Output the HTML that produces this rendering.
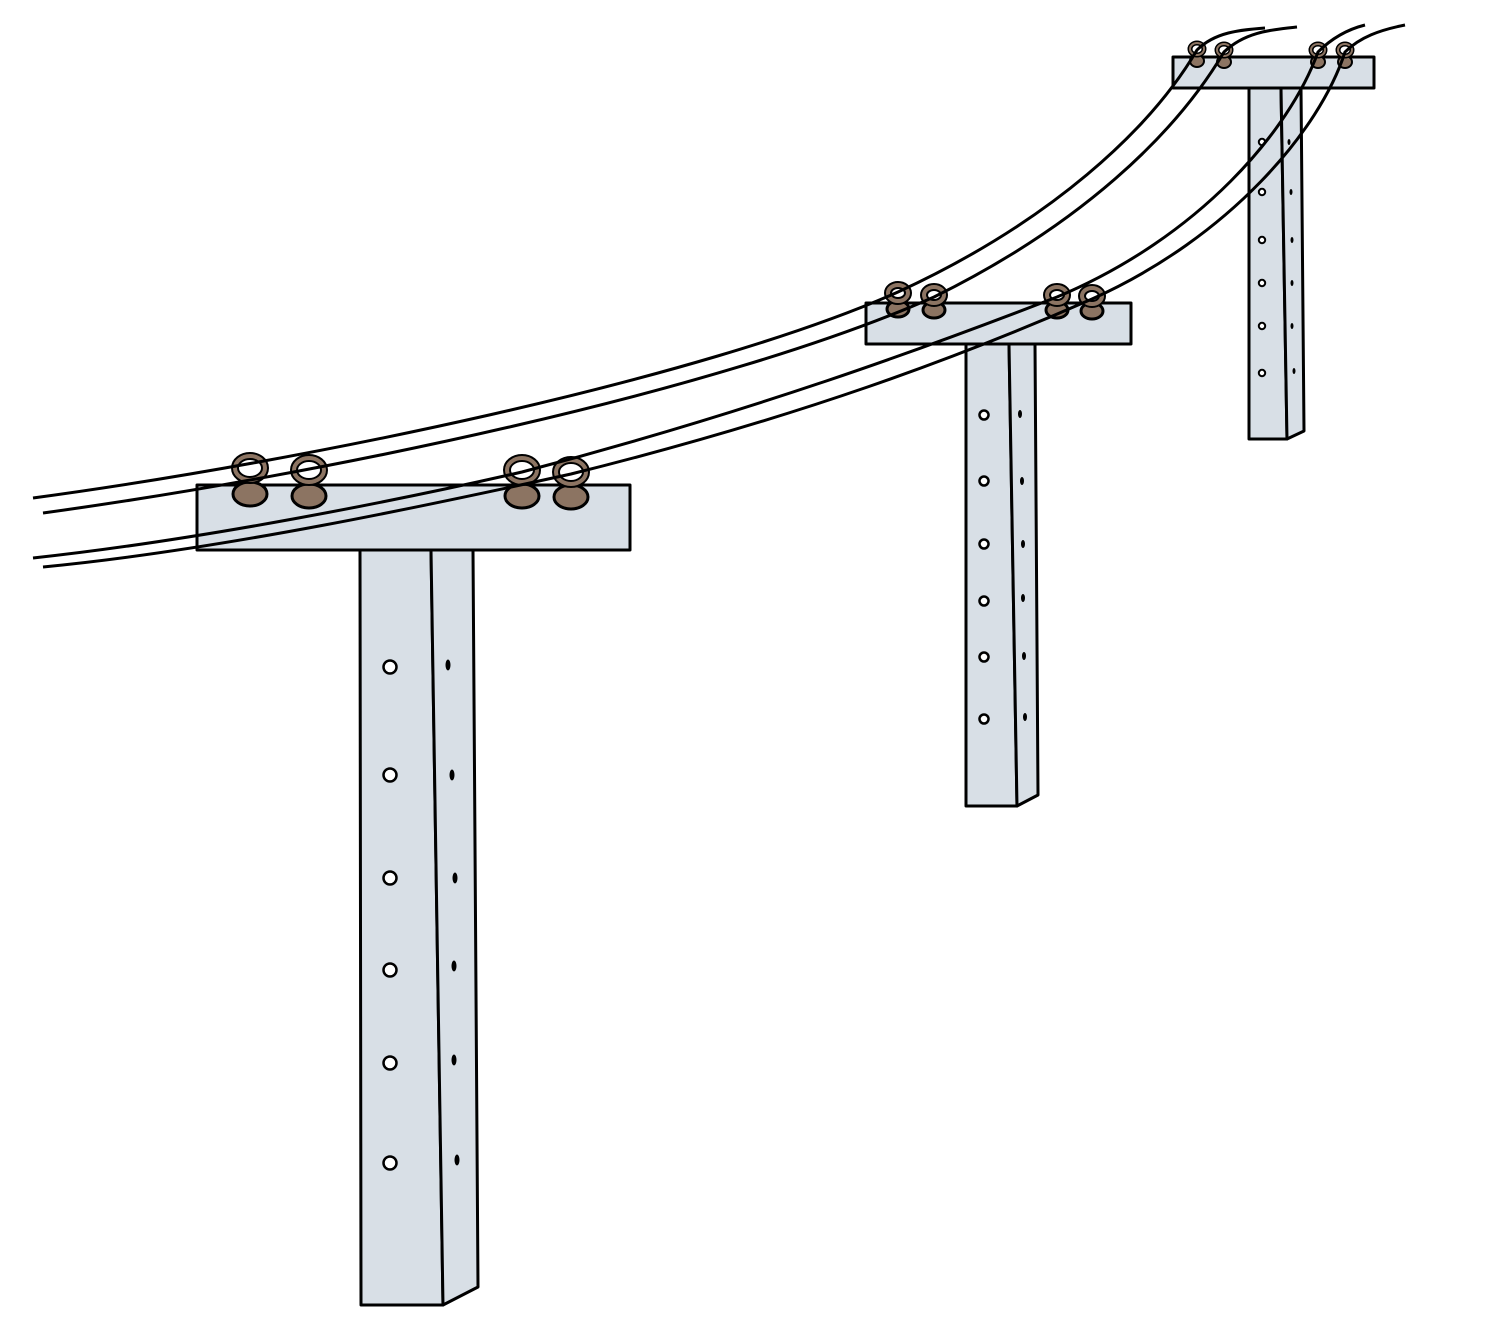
<!DOCTYPE html>
<html><head><meta charset="utf-8"><style>html,body{margin:0;padding:0;background:#fff}svg{display:block}</style></head><body>
<svg width="1500" height="1320" viewBox="0 0 1500 1320" xmlns="http://www.w3.org/2000/svg">
<g stroke="#000" stroke-width="3" fill="#d8dfe6" stroke-linejoin="round">
<!-- pole 3 -->
<rect x="1173" y="57" width="201" height="31"/>
<polygon points="1249,88 1281,88 1287,439 1249,439"/>
<polygon points="1281,88 1301,88 1304,431 1287,439"/>
<!-- pole 2 -->
<rect x="866" y="303" width="265" height="41"/>
<polygon points="966,344 1009,344 1017,806 966,806"/>
<polygon points="1009,344 1035,344 1038,795 1017,806"/>
<!-- pole 1 -->
<rect x="197" y="485" width="433" height="65"/>
<polygon points="360,550 431,550 443,1305 361,1305"/>
<polygon points="431,550 473,550 478,1287 443,1305"/>
</g>
<g stroke="#000" stroke-width="2.5" fill="#fff">
<circle cx="390" cy="667" r="6.5"/><circle cx="390" cy="775" r="6.5"/><circle cx="390" cy="878" r="6.5"/><circle cx="390" cy="970" r="6.5"/><circle cx="390" cy="1063" r="6.5"/><circle cx="390" cy="1163" r="6.5"/>
<circle cx="984" cy="415" r="4.5"/><circle cx="984" cy="481" r="4.5"/><circle cx="984" cy="544" r="4.5"/><circle cx="984" cy="601" r="4.5"/><circle cx="984" cy="657" r="4.5"/><circle cx="984" cy="719" r="4.5"/>
<g stroke-width="2"><circle cx="1262" cy="142" r="3.2"/><circle cx="1262" cy="192" r="3.2"/><circle cx="1262" cy="240" r="3.2"/><circle cx="1262" cy="283" r="3.2"/><circle cx="1262" cy="326" r="3.2"/><circle cx="1262" cy="373" r="3.2"/></g>
</g>
<g fill="#000">
<ellipse cx="448" cy="665" rx="2.5" ry="5.5"/><ellipse cx="452" cy="775" rx="2.5" ry="5.5"/><ellipse cx="455" cy="878" rx="2.5" ry="5.5"/><ellipse cx="454" cy="966" rx="2.5" ry="5.5"/><ellipse cx="454" cy="1060" rx="2.5" ry="5.5"/><ellipse cx="457" cy="1160" rx="2.5" ry="5.5"/>
<ellipse cx="1020" cy="414" rx="2" ry="4"/><ellipse cx="1022" cy="481" rx="2" ry="4"/><ellipse cx="1023" cy="544" rx="2" ry="4"/><ellipse cx="1023" cy="598" rx="2" ry="4"/><ellipse cx="1024" cy="656" rx="2" ry="4"/><ellipse cx="1025" cy="717" rx="2" ry="4"/>
<ellipse cx="1289" cy="142" rx="1.5" ry="3"/><ellipse cx="1291" cy="192" rx="1.5" ry="3"/><ellipse cx="1292" cy="240" rx="1.5" ry="3"/><ellipse cx="1292" cy="283" rx="1.5" ry="3"/><ellipse cx="1292" cy="326" rx="1.5" ry="3"/><ellipse cx="1294" cy="371" rx="1.5" ry="3"/>
</g>
<!-- insulators -->
<g stroke="#000" stroke-width="3" fill="#8c7462">
<ellipse cx="250" cy="494" rx="17" ry="12"/><ellipse cx="309" cy="496" rx="17" ry="12"/><ellipse cx="522" cy="496" rx="17" ry="12"/><ellipse cx="571" cy="497" rx="17" ry="12"/>
<ellipse cx="898" cy="309" rx="11" ry="8"/><ellipse cx="934" cy="310" rx="11" ry="8"/><ellipse cx="1057" cy="310" rx="11" ry="8"/><ellipse cx="1092" cy="311" rx="11" ry="8"/>
<g stroke-width="2"><ellipse cx="1197" cy="61" rx="7" ry="6"/><ellipse cx="1224" cy="62" rx="7" ry="6"/><ellipse cx="1318" cy="62" rx="7" ry="6"/><ellipse cx="1345" cy="62" rx="7" ry="6"/></g>
</g>
<g stroke="#000" stroke-width="3" fill="none">
<g stroke="#000" stroke-width="8"><ellipse cx="250" cy="468" rx="15" ry="12"/><ellipse cx="309" cy="470" rx="15" ry="12"/><ellipse cx="522" cy="470" rx="15" ry="12"/><ellipse cx="571" cy="472" rx="15" ry="12"/>
<ellipse cx="898" cy="293" rx="10" ry="8"/><ellipse cx="934" cy="295" rx="10" ry="8"/><ellipse cx="1057" cy="295" rx="10" ry="8"/><ellipse cx="1092" cy="296" rx="10" ry="8"/></g>
<g stroke="#8c7462" stroke-width="4"><ellipse cx="250" cy="468" rx="15" ry="12"/><ellipse cx="309" cy="470" rx="15" ry="12"/><ellipse cx="522" cy="470" rx="15" ry="12"/><ellipse cx="571" cy="472" rx="15" ry="12"/>
<ellipse cx="898" cy="293" rx="10" ry="8"/><ellipse cx="934" cy="295" rx="10" ry="8"/><ellipse cx="1057" cy="295" rx="10" ry="8"/><ellipse cx="1092" cy="296" rx="10" ry="8"/></g>
<g stroke-width="5"><ellipse cx="1197" cy="49" rx="7" ry="6"/><ellipse cx="1224" cy="50" rx="7" ry="6"/><ellipse cx="1318" cy="50" rx="7" ry="6"/><ellipse cx="1345" cy="50" rx="7" ry="6"/></g>
<g stroke="#8c7462" stroke-width="2"><ellipse cx="1197" cy="49" rx="7" ry="6"/><ellipse cx="1224" cy="50" rx="7" ry="6"/><ellipse cx="1318" cy="50" rx="7" ry="6"/><ellipse cx="1345" cy="50" rx="7" ry="6"/></g>
</g>
<!-- wires -->
<g stroke="#000" stroke-width="3" fill="none">
<path d="M33,498 C300,462 700,380 898,292 C1050,222 1150,130 1197,50 C1215,32 1240,30 1265,28"/>
<path d="M43,513 C320,475 720,392 934,297 C1080,225 1175,135 1224,52 C1245,32 1270,30 1297,27"/>
<path d="M33,558 C200,540 400,500 522,472 C750,412 920,350 1057,297 C1200,237 1290,130 1318,52 C1330,40 1345,30 1365,25"/>
<path d="M43,567 C220,550 430,505 571,474 C800,417 960,357 1092,299 C1230,237 1320,130 1345,52 C1360,37 1380,30 1405,25"/>
</g>
</svg>
</body></html>
